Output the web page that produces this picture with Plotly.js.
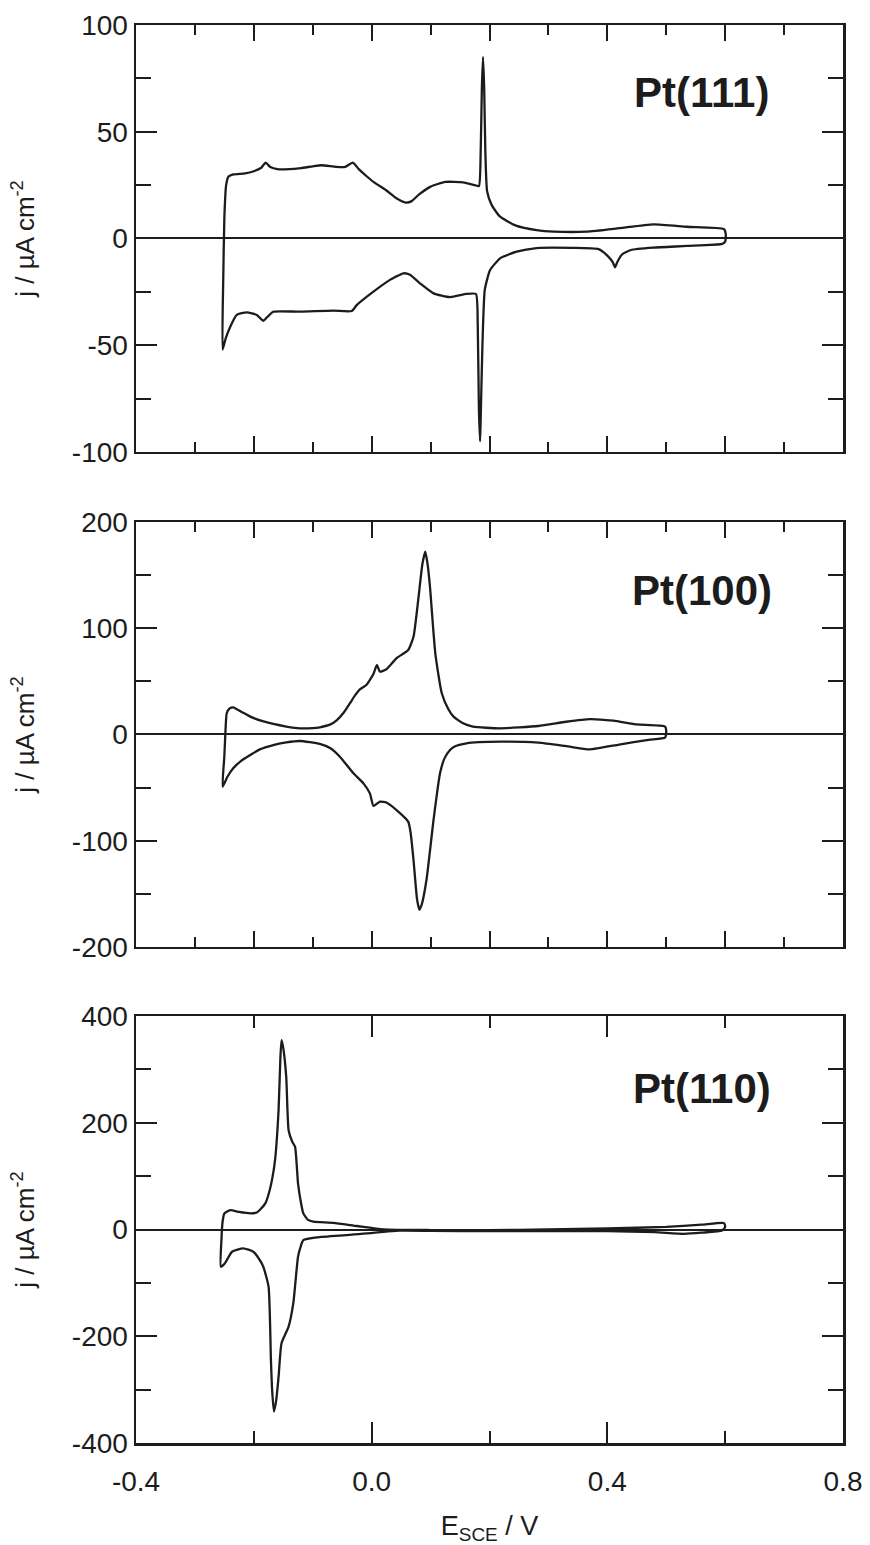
<!DOCTYPE html>
<html>
<head>
<meta charset="utf-8">
<script src="https://cdn.plot.ly/plotly-3.0.1.min.js"></script>
<style>html,body{margin:0;padding:0;background:#fff;}#chart{width:870px;height:1545px;}</style>
</head>
<body>
<div id="chart"></div>
<script>
// ---- Data (E vs SCE / V, j / µA cm^-2) ----
const pt111_E = [-0.253,-0.252,-0.250,-0.247,-0.243,-0.235,-0.215,-0.200,-0.188,-0.180,-0.172,-0.160,-0.140,-0.120,-0.100,-0.085,-0.060,-0.045,-0.032,-0.022,-0.010,0.003,0.025,0.042,0.058,0.068,0.080,0.100,0.125,0.155,0.175,0.182,0.185,0.187,0.189,0.191,0.193,0.196,0.204,0.218,0.245,0.280,0.310,0.365,0.420,0.478,0.535,0.598,0.601,0.600,
  0.595,0.535,0.478,0.440,0.425,0.417,0.413,0.409,0.400,0.385,0.340,0.280,0.246,0.218,0.201,0.192,0.188,0.185,0.184,0.182,0.180,0.177,0.161,0.133,0.105,0.082,0.065,0.054,0.040,0.031,0.003,-0.025,-0.034,-0.065,-0.122,-0.167,-0.178,-0.184,-0.195,-0.212,-0.229,-0.240,-0.248,-0.253];
const pt111_j = [-52,-20,10,25,29,30,30.5,31.5,33,35.5,33.5,32.5,32.5,33,33.8,34.3,33.5,33.5,35.5,32.5,29.5,26.5,22.5,18.8,16.8,17.5,20.5,24.3,26.5,26.3,25,24.5,40,70,85,70,40,22,15.5,10.2,6,3.9,3.2,3.2,4.8,6.6,5.5,4.4,2,-1.5,
  -2.5,-3.5,-4.3,-5.4,-7.5,-11,-13.5,-11,-8,-5,-4.4,-4.5,-6.2,-9.3,-14.8,-24,-50,-85,-95,-80,-40,-26,-26,-27.5,-25.7,-21,-17,-16.3,-18,-19.4,-24.9,-31.1,-34,-33.8,-34.3,-34.3,-37,-38.6,-35.8,-34.6,-35.8,-41.3,-47,-52];

const pt100_E = [-0.253,-0.250,-0.248,-0.246,-0.241,-0.235,-0.220,-0.206,-0.185,-0.167,-0.145,-0.122,-0.100,-0.088,-0.070,-0.059,-0.047,-0.037,-0.028,-0.020,-0.009,0.003,0.009,0.014,0.025,0.042,0.062,0.071,0.079,0.086,0.091,0.095,0.099,0.108,0.119,0.130,0.139,0.155,0.172,0.218,0.283,0.330,0.370,0.410,0.450,0.498,0.500,
  0.498,0.470,0.420,0.370,0.330,0.283,0.218,0.161,0.140,0.133,0.124,0.116,0.105,0.093,0.085,0.081,0.077,0.071,0.066,0.062,0.048,0.025,0.014,0.003,-0.003,-0.014,-0.031,-0.054,-0.070,-0.088,-0.122,-0.145,-0.167,-0.190,-0.206,-0.222,-0.235,-0.245,-0.253];
const pt100_j = [-49,-20,5,20,24.5,25.6,21,16.8,12.5,9.9,7.5,5.8,6,6.8,9.5,13.6,21,29.3,37,42.5,46.6,57,65.4,59.1,61.4,71.7,79.5,92,126.6,160,172,160,139,76.4,38.8,24,16.8,10.5,7.4,5.8,8,12,14.5,13,9.5,7.5,3,
  -3,-5,-9.5,-14,-11,-7.7,-6.8,-8.3,-11.5,-14.6,-22,-36.5,-80.5,-137,-160,-165,-155,-118,-92,-82,-74,-64,-63.2,-67.3,-55.4,-46,-36.5,-20.9,-13,-8.9,-6.1,-7.5,-9.9,-14,-19.3,-25,-31.8,-40,-49];

const pt110_E = [-0.256,-0.255,-0.253,-0.250,-0.240,-0.225,-0.206,-0.195,-0.190,-0.180,-0.173,-0.168,-0.164,-0.158,-0.155,-0.153,-0.150,-0.145,-0.141,-0.135,-0.130,-0.125,-0.120,-0.116,-0.108,-0.099,-0.065,-0.025,0.020,0.100,0.200,0.300,0.400,0.500,0.560,0.598,0.600,
  0.595,0.560,0.530,0.480,0.400,0.300,0.200,0.100,0.048,-0.037,-0.093,-0.116,-0.120,-0.125,-0.133,-0.141,-0.153,-0.158,-0.162,-0.166,-0.169,-0.171,-0.175,-0.184,-0.193,-0.201,-0.218,-0.237,-0.249,-0.256];
const pt110_j = [-69.6,-20,15,30,36.5,33,30.3,32,36.5,50,74,100,130,224,320,355,340,286,186,165,155,86.5,50,30.3,18,14.6,12.5,6.6,0.4,-1,-1,0,2,5,9,12,5,
  -2,-6,-8,-5,-3,-3,-3,-2.5,-2,-10,-14.6,-19.7,-30,-51,-138,-182,-213,-276,-320,-341,-300,-244,-107,-69.6,-52,-41.6,-35.2,-41.6,-63,-69.6];

const panelLabels = ['Pt(111)', 'Pt(100)', 'Pt(110)'];
const yRanges = [[-100, 100], [-200, 200], [-400, 400]];
const yTickVals = [[-100, -50, 0, 50, 100], [-200, -100, 0, 100, 200], [-400, -200, 0, 200, 400]];
const yTickText = [['-100', '-50', '0', '50', '100'], ['-200', '-100', '0', '100', '200'], ['-400', '-200', '0', '200', '400']];
const yMinorStep = [25, 50, 100];
const xRange = [-0.4, 0.8];
const xTickVals = [-0.4, 0.0, 0.4, 0.8];
const xTickText = ['-0.4', '0.0', '0.4', '0.8'];

// ---- Plot ----
const INK = '#1c1c1c';
const FONT = 'Liberation Sans, Arial, sans-serif';
const series = [[pt111_E, pt111_j], [pt100_E, pt100_j], [pt110_E, pt110_j]];
const traces = series.map((s, i) => ({
  x: s[0], y: s[1], type: 'scatter', mode: 'lines',
  xaxis: i === 0 ? 'x' : 'x' + (i + 1),
  yaxis: i === 0 ? 'y' : 'y' + (i + 1),
  line: {color: INK, width: 2.3, shape: 'spline', smoothing: 0.5},
  hoverinfo: 'skip', showlegend: false
}));

const domains = [[0.6989, 1], [0.3498, 0.6495], [0, 0.3011]];
const layout = {
  width: 870, height: 1545,
  margin: {l: 136, r: 27, t: 25, b: 102},
  paper_bgcolor: '#fff', plot_bgcolor: '#fff',
  font: {family: FONT, color: INK, size: 27},
  showlegend: false,
  annotations: []
};
for (let i = 0; i < 3; i++) {
  const sx = i === 0 ? '' : String(i + 1);
  const isBottom = i === 2;
  const xa = {
    domain: [0, 1], anchor: 'y' + sx, range: xRange,
    showline: true, linecolor: INK, linewidth: 2.5, mirror: 'allticks',
    showgrid: false, zeroline: false,
    ticks: 'inside', tickcolor: INK, tickwidth: 2,
    ticklen: isBottom ? 21 : 16,
    showticklabels: isBottom,
    tickfont: {size: 28, family: FONT, color: INK},
    minor: {tickmode: 'linear', tick0: 0, dtick: isBottom ? 0.2 : 0.1, ticklen: isBottom ? 12 : 10, tickwidth: 2, tickcolor: INK, ticks: 'inside', showgrid: false},
    fixedrange: true,
    automargin: false
  };
  if (isBottom) {
    xa.tickmode = 'array';
    xa.tickvals = xTickVals;
    xa.ticktext = xTickText;
    xa.ticklabelstandoff = 12;
    xa.title = {text: 'E<sub>SCE</sub> / V', font: {size: 27, family: FONT, color: INK}};
  } else {
    xa.tickmode = 'linear';
    xa.tick0 = 0;
    xa.dtick = 0.2;
  }
  layout['xaxis' + sx] = xa;
  layout['yaxis' + sx] = {
    domain: domains[i], anchor: 'x' + sx, range: yRanges[i],
    showline: true, linecolor: INK, linewidth: 2.5, mirror: 'allticks',
    showgrid: false,
    zeroline: true, zerolinecolor: INK, zerolinewidth: 2,
    ticks: 'inside', tickcolor: INK, tickwidth: 2, ticklen: 21,
    tickmode: 'array', tickvals: yTickVals[i], ticktext: yTickText[i],
    ticklabelstandoff: 0,
    tickfont: {size: 28, family: FONT, color: INK},
    minor: {tickmode: 'linear', tick0: 0, dtick: yMinorStep[i], ticklen: 15, tickwidth: 2, tickcolor: INK, ticks: 'inside', showgrid: false},
    title: {text: 'j / µA cm<sup>-2</sup>', font: {size: 26, family: FONT, color: INK}, standoff: 30},
    fixedrange: true,
    automargin: false
  };
  layout.annotations.push({
    text: panelLabels[i], showarrow: false,
    xref: 'x' + sx + ' domain', yref: 'y' + sx + ' domain',
    x: 0.80, y: [0.841, 0.84, 0.831][i], xanchor: 'center', yanchor: 'middle',
    font: {size: 42, family: FONT, color: INK, weight: 'bold'}
  });
}

Plotly.newPlot('chart', traces, layout, {staticPlot: true, displayModeBar: false});
</script>
</body>
</html>
